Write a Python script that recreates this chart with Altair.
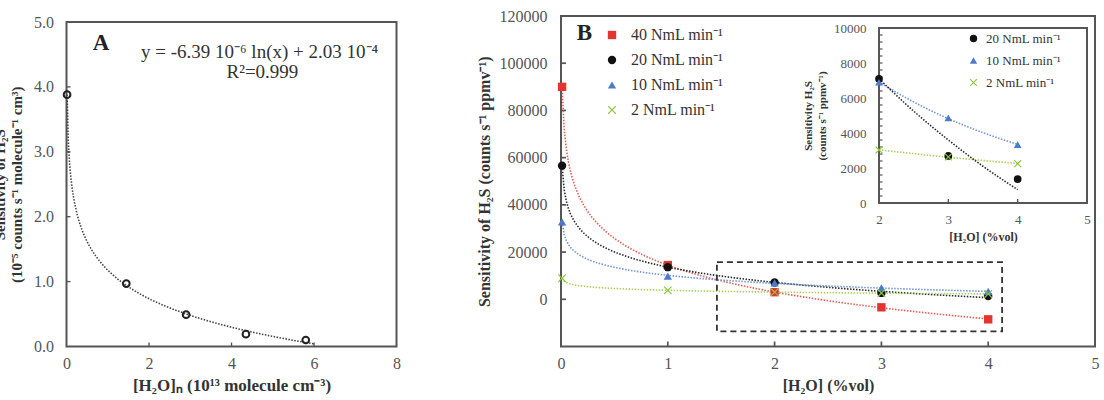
import altair as alt
import pandas as pd

FONT = "Liberation Serif"
W, H = 1104, 400

# ---------------- data: panel A ----------------
a_x = [0.014, 1.45, 2.9, 4.35, 5.8]      # first point drawn at ~0 (kept > 0 for the log fit)
a_y = [3.88, 0.97, 0.49, 0.19, 0.10]

# ---------------- data: panel B ----------------
flows = ["40 NmL min⁻¹", "20 NmL min⁻¹", "10 NmL min⁻¹", "2 NmL min⁻¹"]
h2o = [0.01, 1, 2, 3, 4]                 # first point drawn at ~0 (kept > 0 for the log fit)
sens_40 = [90000, 14500, 3000, -3400, -8500]
sens_20 = [56600, 13600, 7100, 2690, 1370]
sens_10 = [32800, 9800, 6900, 4860, 3330]
sens_2 = [8900, 3800, 3030, 2630, 2250]

# inset trend of the 20 NmL series
inset_fit20_x = [2, 2.5, 3, 3.5, 4]
inset_fit20_y = [7100, 5250, 3600, 2100, 760]

# dashed zoom box (data units of panel B)
box_x = [1.46, 4.13]
box_y = [-13600, 15700]

# tick values
a_ticks_x = [0, 2, 4, 6, 8]
a_ticks_y = [0, 1, 2, 3, 4, 5]
b_ticks_x = [0, 1, 2, 3, 4, 5]
b_ticks_y = [0, 20000, 40000, 60000, 80000, 100000, 120000]
i_ticks_x = [2, 3, 4, 5]
i_ticks_y = [0, 2000, 4000, 6000, 8000, 10000]
i_minor_y = [400, 800, 1200, 1600, 2000, 2400, 2800, 3200, 3600, 4000, 4400, 4800,
             5200, 5600, 6000, 6400, 6800, 7200, 7600, 8000, 8400, 8800, 9200, 9600]

marker_colors = ["#e3342f", "#111111", "#4b7bc9", "#8cc63e"]
fit_colors = ["#e85a55", "#2a2a2a", "#6f95d8", "#a9cf5c"]
X_PATH = "M-1,-0.8L-0.8,-1L0,-0.2L0.8,-1L1,-0.8L0.2,0L1,0.8L0.8,1L0,0.2L-0.8,1L-1,0.8L-0.2,0Z"
shapes = ["square", "circle", "triangle-up", X_PATH]
TICK_UP = "M-0.17,0L0.17,0L0.17,-1L-0.17,-1Z"      # inward tick on a bottom edge
TICK_RIGHT = "M0,-0.17L1,-0.17L1,0.17L0,0.17Z"     # inward tick on a left edge

FRAME_C = "#555555"
TICK_C = "#555555"

# ---------------- tables ----------------
df_a = pd.DataFrame({"x": a_x, "y": a_y})
rows = []
for name, vals in zip(flows, [sens_40, sens_20, sens_10, sens_2]):
    for xv, yv in zip(h2o, vals):
        rows.append({"x": xv, "y": yv, "series": name})
df_b = pd.DataFrame(rows)
df_i = df_b[(df_b["x"] >= 2) & (df_b["series"] != flows[0])].reset_index(drop=True)
df_i_fit = df_i[df_i["series"] != flows[1]].reset_index(drop=True)
df_fit20 = pd.DataFrame({"x": inset_fit20_x, "y": inset_fit20_y})

# ---------------- pixel layout of the three plot areas ----------------
A_XR, A_YR = [66.5, 396.5], [346.5, 22]
B_XR, B_YR = [561, 1095], [346.5, 16]
I_XR, I_YR = [879, 1087], [203, 28]


def sc(domain, rng):
    return alt.Scale(domain=domain, range=rng, nice=False, zero=False)


def SA_X(): return sc([0, 8], A_XR)
def SA_Y(): return sc([0, 5], A_YR)
def SB_X(): return sc([0, 5], B_XR)
def SB_Y(): return sc([-20000, 120000], B_YR)
def SI_X(): return sc([2, 5], I_XR)
def SI_Y(): return sc([0, 10000], I_YR)


def bottom_labels(y_px, values, fmt, title, fs, tfs, lpad, tpad):
    return alt.Axis(orient="bottom", offset=y_px - H, values=values, format=fmt, ticks=False,
                    domain=False, grid=False, labelFont=FONT, labelFontSize=fs,
                    labelColor="#555", labelPadding=lpad, labelFlush=False, labelOverlap=False,
                    title=title, titleFont=FONT, titleFontSize=tfs, titleFontWeight="bold",
                    titleColor="#333", titlePadding=tpad)


def left_labels(x_px, values, fmt, title, fs, tfs, lpad, tpad, **kw):
    return alt.Axis(orient="left", offset=-x_px, values=values, format=fmt, ticks=False,
                    domain=False, grid=False, labelFont=FONT, labelFontSize=fs,
                    labelColor="#555", labelPadding=lpad, labelFlush=False, labelOverlap=False,
                    title=title, titleFont=FONT, titleFontSize=tfs, titleFontWeight="bold",
                    titleColor="#333", titlePadding=tpad, **kw)


def frame(x0, x1, y0, y1, sx, sy):
    d = pd.DataFrame({"x": [float(x0)], "x_end": [float(x1)], "y": [float(y0)], "y_end": [float(y1)]})
    return alt.Chart(d).mark_rect(filled=False, color=FRAME_C, strokeWidth=2).encode(
        x=alt.X("x:Q", scale=sx, axis=None), x2="x_end:Q",
        y=alt.Y("y:Q", scale=sy, axis=None), y2="y_end:Q")


def ticks_bottom(values, base, sx, sy, size):
    d = pd.DataFrame({"x": [float(v) for v in values], "y": [float(base)] * len(values)})
    return alt.Chart(d).mark_point(shape=TICK_UP, filled=True, color=TICK_C, strokeWidth=0,
                                   size=size, opacity=1).encode(
        x=alt.X("x:Q", scale=sx, axis=None), y=alt.Y("y:Q", scale=sy, axis=None))


def ticks_left(values, base, sx, sy, size):
    d = pd.DataFrame({"x": [float(base)] * len(values), "y": [float(v) for v in values]})
    return alt.Chart(d).mark_point(shape=TICK_RIGHT, filled=True, color=TICK_C, strokeWidth=0,
                                   size=size, opacity=1).encode(
        y=alt.Y("y:Q", scale=sy, axis=None), x=alt.X("x:Q", scale=sx, axis=None))


# ================= Panel A =================
txt_a = pd.DataFrame({
    "x": [0.84, 4.68, 4.75],
    "y": [4.68, 4.54, 4.23],
    "t": ["A", "y = -6.39 10⁻⁶ ln(x) + 2.03 10⁻⁴", "R²=0.999"],
})
eq_a = alt.Chart(txt_a.iloc[[1, 2]]).mark_text(font=FONT, fontSize=19, color="#333").encode(
    x=alt.X("x:Q", scale=SA_X(), axis=None), y=alt.Y("y:Q", scale=SA_Y(), axis=None), text="t:N")
label_a = alt.Chart(txt_a.iloc[[0]]).mark_text(font=FONT, fontSize=23, fontWeight="bold", color="#222").encode(
    x=alt.X("x:Q", scale=SA_X(), axis=None),
    y=alt.Y("y:Q", scale=SA_Y(), axis=None), text="t:N")

frame_a = frame(0, 8, 0, 5, SA_X(), SA_Y())
ticks_ax = ticks_bottom(a_ticks_x[1:-1], 0, SA_X(), SA_Y(), 64)
ticks_ay = ticks_left(a_ticks_y[1:-1], 0, SA_X(), SA_Y(), 64)

fit_a = alt.Chart(df_a).transform_regression("x", "y", method="log", extent=[0.014, 6.0]).mark_line(
    color="#444", strokeWidth=1.6, strokeDash=[1.5, 1.5]
).encode(x=alt.X("x:Q", scale=SA_X(), axis=None),
         y=alt.Y("y:Q", scale=SA_Y(), axis=None))

pts_a = alt.Chart(df_a).mark_point(shape="circle", filled=False, color="#222", size=45, strokeWidth=2,
                                   opacity=1).encode(
    x=alt.X("x:Q", scale=SA_X(),
            axis=bottom_labels(346.5, a_ticks_x, "d", "[H₂O]ₙ (10¹³ molecule cm⁻³)", 16, 17, 9, 6)),
    y=alt.Y("y:Q", scale=SA_Y(),
            axis=left_labels(66.5, a_ticks_y, ".1f",
                             ["Sensitivity of H₂S", "(10⁻⁵ counts s⁻¹ molecule⁻¹ cm³)"],
                             16, 15, 13, 4, titleX=-59.5, titleBaseline="bottom",
                             titleAngle=270, titleLineHeight=17)),
)

# ================= Panel B =================
frame_b = frame(0, 5, -20000, 120000, SB_X(), SB_Y())
ticks_bx = ticks_bottom(b_ticks_x[1:-1], -20000, SB_X(), SB_Y(), 100)
ticks_by = ticks_left(b_ticks_y[:-1], 0, SB_X(), SB_Y(), 100)

fit_b = alt.Chart(df_b).transform_regression(
    "x", "y", groupby=["series"], method="log", extent=[0.01, 4]
).mark_line(strokeWidth=1.6, strokeDash=[1.5, 1.5]).encode(
    x=alt.X("x:Q", scale=SB_X(), axis=None),
    y=alt.Y("y:Q", scale=SB_Y(), axis=None),
    color=alt.Color("series:N", scale=alt.Scale(domain=flows, range=fit_colors), legend=None),
    detail="series:N",
)

pts_b = alt.Chart(df_b).mark_point(filled=True, size=70, opacity=1).encode(
    x=alt.X("x:Q", scale=SB_X(),
            axis=bottom_labels(346.5, b_ticks_x, "d", "[H₂O] (%vol)", 16, 16, 9, 6)),
    y=alt.Y("y:Q", scale=SB_Y(),
            axis=left_labels(561, b_ticks_y, "d", "Sensitivity of H₂S (counts s⁻¹ ppmv⁻¹)", 16, 16, 14, 7)),
    color=alt.Color("series:N", scale=alt.Scale(domain=flows, range=marker_colors),
                    legend=alt.Legend(orient="none", legendX=604, legendY=27, title=None,
                                      labelFont=FONT, labelFontSize=16, labelColor="#333",
                                      symbolSize=70, rowPadding=9, labelOffset=11, padding=0)),
    shape=alt.Shape("series:N", scale=alt.Scale(domain=flows, range=shapes), legend=None),
)

box_b = alt.Chart(pd.DataFrame({"x0": [box_x[0]], "x1": [box_x[1]], "y0": [box_y[0]], "y1": [box_y[1]]})).mark_rect(
    filled=False, stroke="#333", strokeWidth=1.8, strokeDash=[6, 4]
).encode(x=alt.X("x0:Q", scale=SB_X(), axis=None), x2="x1:Q",
         y=alt.Y("y0:Q", scale=SB_Y(), axis=None), y2="y1:Q")

label_b = alt.Chart(pd.DataFrame({"x": [0.22], "y": [112800], "t": ["B"]})).mark_text(
    font=FONT, fontSize=23, fontWeight="bold", color="#222"
).encode(x=alt.X("x:Q", scale=SB_X(), axis=None),
         y=alt.Y("y:Q", scale=SB_Y(), axis=None), text="t:N")

# ================= Inset =================
frame_i = frame(2, 5, 0, 10000, SI_X(), SI_Y())
ticks_ix = ticks_bottom(i_ticks_x[1:-1], 0, SI_X(), SI_Y(), 64)
ticks_iy = ticks_left(i_minor_y, 2, SI_X(), SI_Y(), 50)

fit_i = alt.Chart(df_i_fit).transform_regression(
    "x", "y", groupby=["series"], method="exp", extent=[2, 4]
).mark_line(strokeWidth=1.6, strokeDash=[1.5, 1.5]).encode(
    x=alt.X("x:Q", scale=SI_X(), axis=None),
    y=alt.Y("y:Q", scale=SI_Y(), axis=None),
    color=alt.Color("series:N", scale=alt.Scale(domain=flows, range=fit_colors), legend=None),
    detail="series:N",
)

fit_i20 = alt.Chart(df_fit20).mark_line(color=fit_colors[1], strokeWidth=1.6, strokeDash=[1.5, 1.5],
                                        interpolate="monotone").encode(
    x=alt.X("x:Q", scale=SI_X(), axis=None),
    y=alt.Y("y:Q", scale=SI_Y(), axis=None))

pts_i = alt.Chart(df_i).mark_point(filled=True, size=60, opacity=1).encode(
    x=alt.X("x:Q", scale=SI_X(),
            axis=bottom_labels(203, i_ticks_x, "d", "[H₂O] (%vol)", 13, 12, 10, 5)),
    y=alt.Y("y:Q", scale=SI_Y(),
            axis=left_labels(879, i_ticks_y, "d", ["Sensitivity H₂S", "(counts s⁻¹ ppmv⁻¹)"], 13, 11, 13, 6,
                             titleLineHeight=14)),
    color=alt.Color("series:N", scale=alt.Scale(domain=flows[1:], range=marker_colors[1:]),
                    legend=alt.Legend(orient="none", legendX=967, legendY=32, title=None,
                                      labelFont=FONT, labelFontSize=13, labelColor="#333",
                                      symbolSize=55, rowPadding=8, labelOffset=6, padding=0)),
    shape=alt.Shape("series:N", scale=alt.Scale(domain=flows[1:], range=shapes[1:]), legend=None),
)

chart = alt.layer(
    eq_a, label_a, frame_a, ticks_ax, ticks_ay, fit_a, pts_a,
    frame_b, ticks_bx, ticks_by, fit_b, box_b, pts_b, label_b,
    frame_i, ticks_ix, ticks_iy, fit_i, fit_i20, pts_i,
).resolve_scale(
    x="independent", y="independent", color="independent", shape="independent"
).properties(
    width=W, height=H, padding=0, background="white",
    autosize=alt.AutoSizeParams(type="none"),
).configure_view(stroke=None)

chart.save("out.html", embed_options={"renderer": "svg", "actions": False})
